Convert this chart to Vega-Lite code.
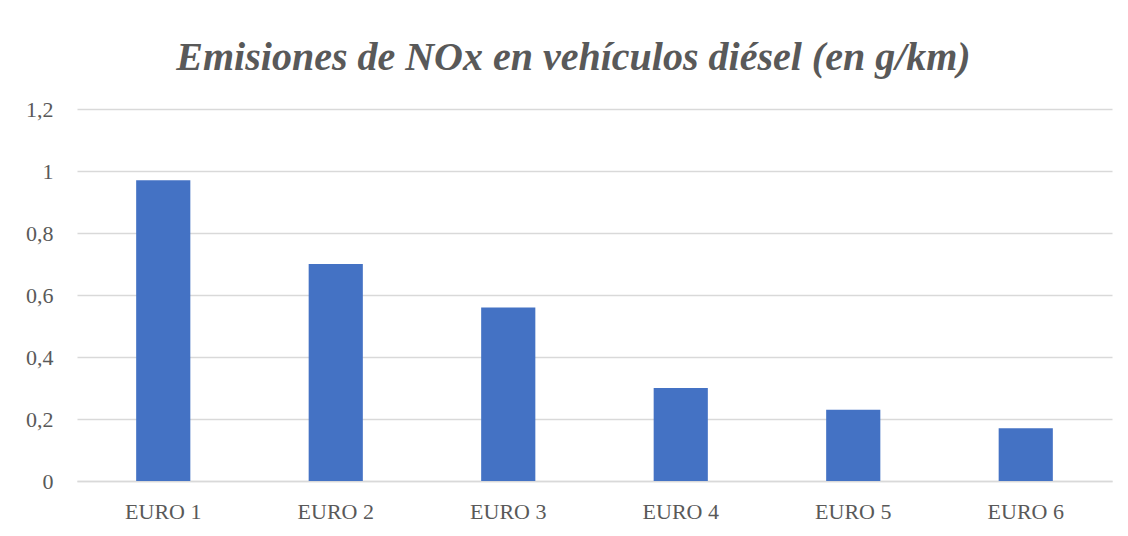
{
  "$schema": "https://vega.github.io/schema/vega-lite/v6.json",
  "width": 1035,
  "height": 372,
  "autosize": {"type": "none"},
  "padding": {"left": 77, "top": 109, "right": 16, "bottom": 55},
  "background": "white",
  "title": {
    "text": "Emisiones de NOx en vehículos diésel (en g/km)",
    "font": "Liberation Serif",
    "fontSize": 40,
    "fontWeight": "bold",
    "fontStyle": "italic",
    "color": "#595959",
    "anchor": "middle",
    "dx": -21,
    "offset": 20
  },
  "data": {
    "values": [
      {"norma": "EURO 1", "nox": 0.97},
      {"norma": "EURO 2", "nox": 0.70},
      {"norma": "EURO 3", "nox": 0.56},
      {"norma": "EURO 4", "nox": 0.30},
      {"norma": "EURO 5", "nox": 0.23},
      {"norma": "EURO 6", "nox": 0.17}
    ]
  },
  "mark": {"type": "bar", "color": "#4472C4"},
  "encoding": {
    "x": {
      "field": "norma",
      "type": "nominal",
      "sort": null,
      "scale": {"paddingInner": 0.686, "paddingOuter": 0.343},
      "axis": {
        "title": null,
        "labelAngle": 0,
        "labelFont": "Liberation Serif",
        "labelFontSize": 22,
        "labelColor": "#595959",
        "labelPadding": 20,
        "ticks": false,
        "domainColor": "#d9d9d9",
        "domainWidth": 1.5
      }
    },
    "y": {
      "field": "nox",
      "type": "quantitative",
      "scale": {"domain": [0, 1.2], "nice": false},
      "axis": {
        "title": null,
        "values": [0, 0.2, 0.4, 0.6, 0.8, 1, 1.2],
        "labelExpr": "replace(format(datum.value, '~g'), '.', ',')",
        "labelFont": "Liberation Serif",
        "labelFontSize": 22,
        "labelColor": "#595959",
        "labelPadding": 24,
        "ticks": false,
        "domain": false,
        "gridColor": "#d9d9d9",
        "gridWidth": 1.5
      }
    }
  },
  "config": {"view": {"stroke": null}}
}
